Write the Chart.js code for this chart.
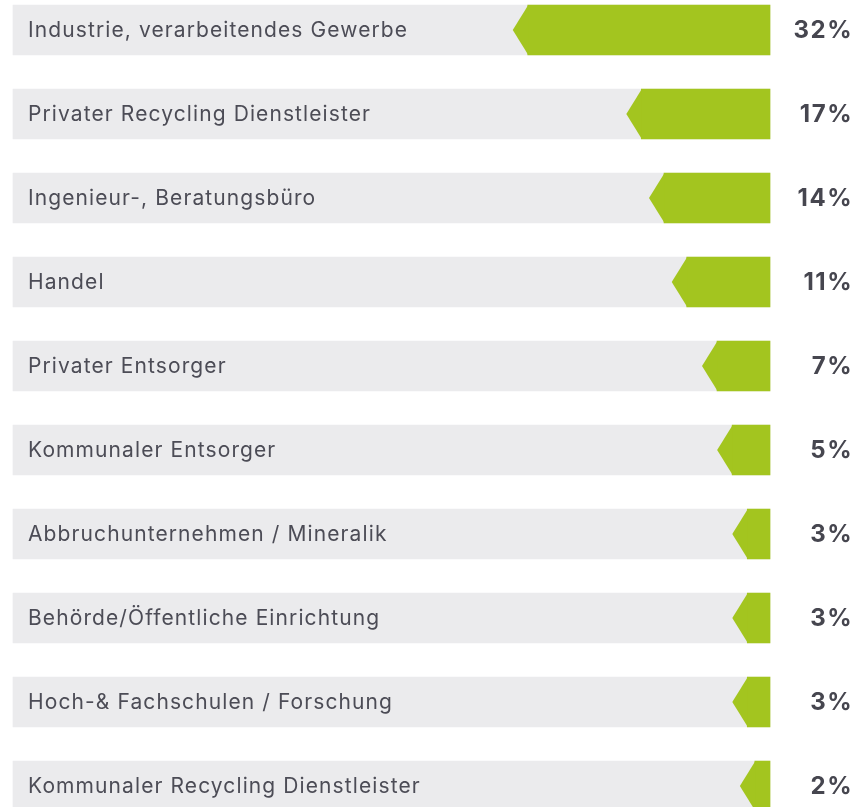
<!DOCTYPE html>
<html>
<head>
<meta charset="utf-8">
<script src="https://cdn.jsdelivr.net/npm/chart.js@4"></script>
<style>
html,body{margin:0;padding:0;background:#ffffff;}
#wrap{width:857px;height:807px;position:relative;}
</style>
</head>
<body>
<div id="wrap"><canvas id="c" width="857" height="807"></canvas></div>
<script>
const categories = [
  "Industrie, verarbeitendes Gewerbe",
  "Privater Recycling Dienstleister",
  "Ingenieur-, Beratungsbüro",
  "Handel",
  "Privater Entsorger",
  "Kommunaler Entsorger",
  "Abbruchunternehmen / Mineralik",
  "Behörde/Öffentliche Einrichtung",
  "Hoch-& Fachschulen / Forschung",
  "Kommunaler Recycling Dienstleister"
];
const shares = [32, 17, 14, 11, 7, 5, 3, 3, 3, 2];
const valueLabels = ["32%", "17%", "14%", "11%", "7%", "5%", "3%", "3%", "3%", "2%"];
const scaleMax = 100;

const GREEN = '#a3c51f';
const GREY = '#ebebed';
const TEXT = '#4c4c56';
const FONT = 'Inter, "Noto Sans", sans-serif';

const chevronPlugin = {
  id: 'chevron',
  afterDatasetsDraw(chart) {
    const ctx = chart.ctx;
    const meta = chart.getDatasetMeta(1);
    ctx.save();
    ctx.fillStyle = GREEN;
    meta.data.forEach((bar) => {
      const left = Math.min(bar.x, bar.base);
      const h = bar.height;
      const top = bar.y - h / 2, bottom = bar.y + h / 2;
      const depth = 15;
      ctx.beginPath();
      ctx.moveTo(left + 0.5, top);
      ctx.lineTo(left - depth, bar.y);
      ctx.lineTo(left + 0.5, bottom);
      ctx.closePath();
      ctx.fill();
    });
    // category labels inside grey bars
    const greyMeta = chart.getDatasetMeta(0);
    ctx.textBaseline = 'middle';
    ctx.font = '400 21px ' + FONT;
    ctx.letterSpacing = '1.1px';
    ctx.fillStyle = TEXT;
    ctx.textAlign = 'left';
    greyMeta.data.forEach((bar, i) => {
      ctx.fillText(categories[i], chart.chartArea.left + 15, bar.y + 1);
    });
    // value labels
    ctx.font = '700 24px ' + FONT;
    ctx.letterSpacing = '1.5px';
    ctx.fillStyle = '#46464f';
    ctx.textAlign = 'right';
    meta.data.forEach((bar, i) => {
      ctx.fillText(valueLabels[i], chart.width - 4, bar.y + 1);
    });
    ctx.restore();
  }
};

new Chart(document.getElementById('c'), {
  type: 'bar',
  data: {
    labels: categories,
    datasets: [
      {
        data: categories.map(() => [0, scaleMax]),
        backgroundColor: GREY,
        barThickness: 50,
        grouped: false,
        borderWidth: 0,
        clip: false,
        order: 2
      },
      {
        data: shares.map(v => [scaleMax - v, scaleMax]),
        backgroundColor: GREEN,
        barThickness: 50,
        grouped: false,
        borderWidth: 0,
        clip: false,
        order: 1
      }
    ]
  },
  options: {
    indexAxis: 'y',
    responsive: false,
    animation: false,
    layout: { padding: { left: 13, right: 87, top: 30, bottom: 21 } },
    plugins: { legend: { display: false }, tooltip: { enabled: false } },
    scales: {
      x: { min: 0, max: scaleMax, display: false },
      y: { display: false, offset: false }
    }
  },
  plugins: [chevronPlugin]
});
</script>
</body>
</html>
